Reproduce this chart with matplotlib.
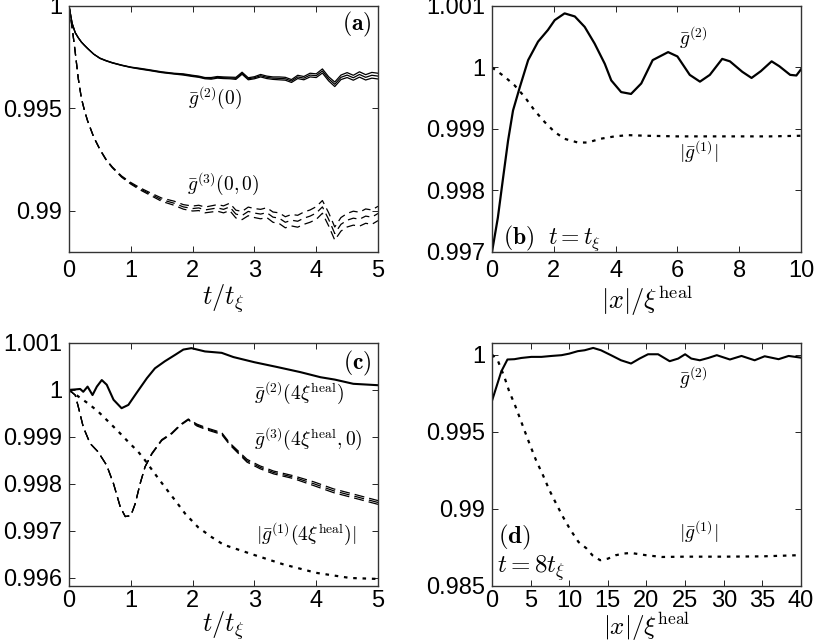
import numpy as np
import matplotlib
matplotlib.use("Agg")
import matplotlib.pyplot as plt

plt.rcParams['font.family'] = ['Liberation Sans', 'DejaVu Sans']
plt.rcParams['mathtext.fontset'] = 'cm'

# ---------------- panel (a) ----------------
t_a = [0, 0.05, 0.1, 0.15, 0.2, 0.25, 0.3, 0.4, 0.5, 0.6, 0.7, 0.85, 1.0, 1.15, 1.3, 1.5, 1.7, 1.85,
       2.0, 2.1, 2.2, 2.3, 2.4, 2.5, 2.6, 2.7, 2.8, 2.9, 3.0, 3.1, 3.2, 3.3, 3.4, 3.5, 3.6, 3.7,
       3.8, 3.9, 4.0, 4.1, 4.2, 4.3, 4.4, 4.5, 4.6, 4.7, 4.8, 4.9, 5.0]
g2_a = [1.0, 0.99915, 0.99870, 0.99845, 0.99824, 0.99808, 0.99793, 0.99765, 0.99745, 0.99733,
        0.99723, 0.99711, 0.99701, 0.99694, 0.99687, 0.99677, 0.99670, 0.99666,
        0.99659, 0.99655, 0.99648, 0.99647, 0.99652, 0.99650, 0.99649, 0.99647, 0.99672, 0.99645,
        0.99650, 0.99660, 0.99652, 0.99648, 0.99647, 0.99645, 0.99634, 0.99654, 0.99648, 0.99663,
        0.99660, 0.99683, 0.99645, 0.99618, 0.99652, 0.99663, 0.99650, 0.99666, 0.99652, 0.99662,
        0.99658]
err_g2_a = [0, 0, 0, 0, 0, 0, 0, 0, 0.00001, 0.00001, 0.00001, 0.00001, 0.00001, 0.00002, 0.00002,
            0.00002, 0.00002, 0.00003, 0.00003, 0.00003, 0.00003, 0.00004, 0.00004, 0.00004, 0.00004,
            0.00005, 0.00005, 0.00005, 0.00005, 0.00006, 0.00006, 0.00006, 0.00007, 0.00007, 0.00007,
            0.00008, 0.00008, 0.00009, 0.00009, 0.00010, 0.00010, 0.00011, 0.00011, 0.00012, 0.00012,
            0.00013, 0.00013, 0.00014, 0.00014]
g3_a = [1.0, 0.99895, 0.99775, 0.99645, 0.99550, 0.99490, 0.99440, 0.99360, 0.99300, 0.99250,
        0.99213, 0.99168, 0.99135, 0.99108, 0.99085, 0.99055, 0.99038, 0.99020,
        0.99012, 0.99015, 0.99005, 0.99010, 0.99015, 0.99008, 0.99020, 0.98985, 0.98978, 0.98998,
        0.98990, 0.98985, 0.98992, 0.98970, 0.98965, 0.98945, 0.98955, 0.98950, 0.98965, 0.98975,
        0.98990, 0.99020, 0.98960, 0.98890, 0.98935, 0.98955, 0.98965, 0.98960, 0.98975, 0.98970,
        0.98988]
err_g3_a = [0, 0, 0, 0, 0, 0, 0, 0.00001, 0.00001, 0.00002, 0.00002, 0.00003, 0.00004, 0.00005,
            0.00006, 0.00008, 0.00010, 0.00011, 0.00012, 0.00013, 0.00014, 0.00015, 0.00016, 0.00017,
            0.00018, 0.00019, 0.00020, 0.00021, 0.00022, 0.00023, 0.00024, 0.00025, 0.00026, 0.00027,
            0.00028, 0.00029, 0.00030, 0.00030, 0.00031, 0.00031, 0.00032, 0.00032, 0.00033, 0.00033,
            0.00034, 0.00034, 0.00035, 0.00035, 0.00035]

# ---------------- panel (b) ----------------
x_b2 = [0, 0.19, 0.36, 0.52, 0.68, 0.9, 1.17, 1.49, 1.81, 2.03, 2.35, 2.68, 3.0, 3.32, 3.65, 3.86,
        4.18, 4.5, 4.83, 5.2, 5.7, 6.0, 6.4, 6.73, 7.05, 7.45, 7.7, 8.1, 8.4, 8.7, 9.05, 9.3, 9.65,
        9.85, 10]
g2_b = [0.997, 0.99756, 0.99821, 0.99881, 0.9993, 0.99968, 1.00012, 1.00042, 1.00061, 1.00077,
        1.00088, 1.00083, 1.00066, 1.00039, 1.00006, 0.99979, 0.9996, 0.99957, 0.99974, 1.00012,
        1.00025, 1.00018, 0.99988, 0.99977, 0.99988, 1.00014, 1.0001, 0.99993, 0.99983, 0.99994,
        1.0001, 1.00002, 0.99988, 0.99987, 0.99997]
x_b1 = [0, 0.41, 0.73, 1.06, 1.38, 1.71, 2.03, 2.35, 2.78, 3.1, 3.5, 3.97, 4.4, 5, 6, 7, 8, 9, 10]
g1_b = [1.0, 0.99985, 0.99971, 0.99952, 0.9993, 0.99911, 0.99895, 0.99884, 0.99878, 0.99878,
        0.99884, 0.99888, 0.9989, 0.99889, 0.99888, 0.99888, 0.99888, 0.99888, 0.99889]

# ---------------- panel (c) ----------------
t_c2 = [0, 0.1, 0.18, 0.23, 0.3, 0.38, 0.45, 0.53, 0.61, 0.72, 0.85, 0.96, 1.09, 1.26, 1.39, 1.55,
        1.72, 1.85, 1.98, 2.2, 2.47, 2.66, 3.0, 3.36, 3.74, 4.07, 4.3, 4.6, 5.0]
g2_c = [1.0, 1.00001, 1.00002, 0.99996, 1.00007, 0.99989, 1.00007, 1.00021, 1.00011, 0.99979,
        0.99961, 0.99968, 0.99993, 1.00025, 1.00046, 1.00061, 1.00075, 1.00086, 1.00089, 1.00082,
        1.00079, 1.0007, 1.00059, 1.00049, 1.00038, 1.00027, 1.00022, 1.00013, 1.0001]
t_c3 = [0, 0.1, 0.15, 0.23, 0.34, 0.47, 0.61, 0.72, 0.83, 0.91, 1.0, 1.07, 1.15, 1.23, 1.34, 1.5,
        1.66, 1.8, 1.93, 2.07, 2.25, 2.47, 2.6, 2.88, 3.09, 3.31, 3.63, 3.96, 4.28, 4.6, 5.0]
g3_c = [1.0, 0.99989, 0.99964, 0.99921, 0.99886, 0.99868, 0.99839, 0.998, 0.9975, 0.9973, 0.99732,
        0.99757, 0.998, 0.99836, 0.99864, 0.99893, 0.99907, 0.99925, 0.99937, 0.99925, 0.99916,
        0.99907, 0.99885, 0.99849, 0.99835, 0.99824, 0.99814, 0.998, 0.99785, 0.99774, 0.9976]
err_g3_c = [0, 0, 0, 0, 0, 0, 0, 0, 0, 0, 0, 0, 0, 0, 0.00001, 0.00001, 0.00001, 0.00001, 0.00001,
            0.00002, 0.00002, 0.00002, 0.00002, 0.00003, 0.00003, 0.00003, 0.00003, 0.00004,
            0.00004, 0.00004, 0.00004]
t_c1 = [0, 0.15, 0.31, 0.47, 0.64, 0.8, 0.96, 1.12, 1.23, 1.39, 1.55, 1.72, 1.88, 2.09, 2.31, 2.5,
        3.0, 3.47, 4.0, 4.55, 5.0]
g1_c = [1.0, 0.99986, 0.99971, 0.99954, 0.99932, 0.99911, 0.99889, 0.99868, 0.9985, 0.99821,
        0.99793, 0.99764, 0.99736, 0.99707, 0.99686, 0.9967, 0.99648, 0.99628, 0.9961, 0.99599,
        0.99597]

# ---------------- panel (d) ----------------
x_d2 = [0, 1.2, 2.0, 2.9, 3.8, 5.1, 6.4, 7.7, 9.0, 10.0, 11.1, 12.0, 13.1, 14.1, 15.4, 16.7, 18.0,
        19.1, 20.2, 21.5, 23.0, 24.1, 25.0, 25.8, 26.9, 28.0, 29.1, 30.8, 32.3, 34.0, 35.3, 37.1,
        38.4, 40]
g2_d = [0.99700, 0.99890, 0.99968, 0.99970, 0.99978, 0.99985, 0.99985, 0.99991, 0.99996, 1.00006,
        1.00022, 1.00028, 1.00043, 1.00028, 0.99996, 0.99963, 0.99942, 0.99974, 1.00002, 1.00002,
        0.99957, 0.99974, 1.00002, 0.99974, 0.99963, 0.99978, 0.99996, 0.99968, 0.99991, 0.99963,
        0.99989, 0.99970, 0.99991, 0.99980]
x_d1 = [0, 0.74, 1.6, 2.25, 2.9, 3.55, 4.2, 4.85, 5.7, 6.6, 7.44, 8.3, 9.2, 10.1, 11.2, 12.2, 13.0,
        14.0, 15.0, 16.0, 17.0, 18.0, 20.0, 22.0, 25.0, 30.0, 35.0, 40.0]
g1_d = [1.0, 0.99963, 0.99855, 0.99758, 0.99682, 0.99596, 0.99509, 0.99423, 0.99315, 0.99218,
        0.9912, 0.99034, 0.98947, 0.98868, 0.98785, 0.98745, 0.98699, 0.98667, 0.98677, 0.98699,
        0.9871, 0.98714, 0.98699, 0.98688, 0.98690, 0.98690, 0.98692, 0.98700]

DOT = (0, (1.6, 2.6))
TICKFS = 17
MATHFS = 14
LABFS = 19
PANFS = 17

fig = plt.figure(figsize=(8.17, 6.44), dpi=100)
axA = fig.add_axes([0.0845, 0.6087, 0.3782, 0.382])
axB = fig.add_axes([0.6022, 0.6087, 0.3782, 0.382])
axC = fig.add_axes([0.0845, 0.0901, 0.3782, 0.3773])
axD = fig.add_axes([0.6022, 0.0901, 0.3782, 0.3773])


def style(ax, xpad):
    ax.tick_params(direction='in', top=True, right=True, length=4, width=0.6,
                   labelsize=TICKFS, pad=5)
    ax.tick_params(axis='x', pad=xpad)
    for s in ax.spines.values():
        s.set_linewidth(1.0)
        s.set_color('#333333')
    ax.yaxis.set_major_formatter(matplotlib.ticker.FormatStrFormatter('%g'))


def band(ax, x, y, e, **kw):
    x = np.asarray(x); y = np.asarray(y); e = np.asarray(e)
    ax.plot(x, y - e, **kw)
    ax.plot(x, y, **kw)
    ax.plot(x, y + e, **kw)


# (a)
band(axA, t_a, g2_a, err_g2_a, color='k', lw=0.9)
band(axA, t_a, g3_a, err_g3_a, color='k', lw=0.9, ls=(0, (7, 4)))
axA.set_xlim(0, 5)
axA.set_ylim(0.988, 1.0)
axA.set_xticks([0, 1, 2, 3, 4, 5])
axA.set_yticks([0.99, 0.995, 1.0])
style(axA, 6)
axA.set_xlabel(r'$t/t_\xi$', fontsize=LABFS, labelpad=0)
axA.text(2.36, 0.99554, r'$\bar{g}^{(2)}(0)$', fontsize=MATHFS, ha='center', va='center')
axA.text(2.49, 0.99132, r'$\bar{g}^{(3)}(0,0)$', fontsize=MATHFS, ha='center', va='center')
axA.text(0.98, 0.923, r'$\mathbf{(a)}$', fontsize=PANFS, ha='right', va='center',
         transform=axA.transAxes)

# (b)
axB.plot(x_b2, g2_b, color='k', lw=1.6)
axB.plot(x_b1, g1_b, color='k', lw=1.6, ls=DOT)
axB.set_xlim(0, 10)
axB.set_ylim(0.997, 1.001)
axB.set_xticks([0, 2, 4, 6, 8, 10])
axB.set_yticks([0.997, 0.998, 0.999, 1.0, 1.001])
style(axB, 6)
axB.set_xlabel(r'$|x|/\xi^{\rm heal}$', fontsize=LABFS, labelpad=1)
axB.text(6.5, 1.00049, r'$\bar{g}^{(2)}$', fontsize=MATHFS, ha='center', va='center')
axB.text(6.7, 0.99863, r'$|\bar{g}^{(1)}|$', fontsize=MATHFS, ha='center', va='center')
axB.text(0.035, 0.055, r'$\mathbf{(b)}\ \ t = t_\xi$', fontsize=PANFS, ha='left', va='center',
         transform=axB.transAxes)

# (c)
axC.plot(t_c2, g2_c, color='k', lw=1.5)
band(axC, t_c3, g3_c, err_g3_c, color='k', lw=0.9, ls=(0, (8, 4)))
axC.plot(t_c1, g1_c, color='k', lw=1.6, ls=DOT)
axC.set_xlim(0, 5)
axC.set_ylim(0.99582, 1.001)
axC.set_xticks([0, 1, 2, 3, 4, 5])
axC.set_yticks([0.996, 0.997, 0.998, 0.999, 1.0, 1.001])
style(axC, 3)
axC.set_xlabel(r'$t/t_\xi$', fontsize=LABFS, labelpad=-2)
axC.text(3.72, 0.99995, r'$\bar{g}^{(2)}(4\xi^{\rm heal})$', fontsize=MATHFS, ha='center', va='center')
axC.text(3.87, 0.99896, r'$\bar{g}^{(3)}(4\xi^{\rm heal},0)$', fontsize=MATHFS, ha='center', va='center')
axC.text(3.83, 0.99693, r'$|\bar{g}^{(1)}(4\xi^{\rm heal})|$', fontsize=MATHFS, ha='center', va='center')
axC.text(0.98, 0.914, r'$\mathbf{(c)}$', fontsize=PANFS, ha='right', va='center',
         transform=axC.transAxes)

# (d)
axD.plot(x_d2, g2_d, color='k', lw=1.5)
axD.plot(x_d1, g1_d, color='k', lw=1.6, ls=DOT)
axD.set_xlim(0, 40)
axD.set_ylim(0.985, 1.00075)
axD.set_xticks([0, 5, 10, 15, 20, 25, 30, 35, 40])
axD.set_yticks([0.985, 0.99, 0.995, 1.0])
style(axD, 3)
axD.set_xlabel(r'$|x|/\xi^{\rm heal}$', fontsize=18, labelpad=-1)
axD.text(26.1, 0.99853, r'$\bar{g}^{(2)}$', fontsize=MATHFS, ha='center', va='center')
axD.text(26.8, 0.98854, r'$|\bar{g}^{(1)}|$', fontsize=MATHFS, ha='center', va='center')
axD.text(0.02, 0.198, r'$\mathbf{(d)}$', fontsize=PANFS + 1, ha='left', va='center',
         transform=axD.transAxes)
axD.text(0.015, 0.074, r'$t = 8t_\xi$', fontsize=PANFS + 1, ha='left', va='center',
         transform=axD.transAxes)

fig.savefig('out.png', dpi=100)
